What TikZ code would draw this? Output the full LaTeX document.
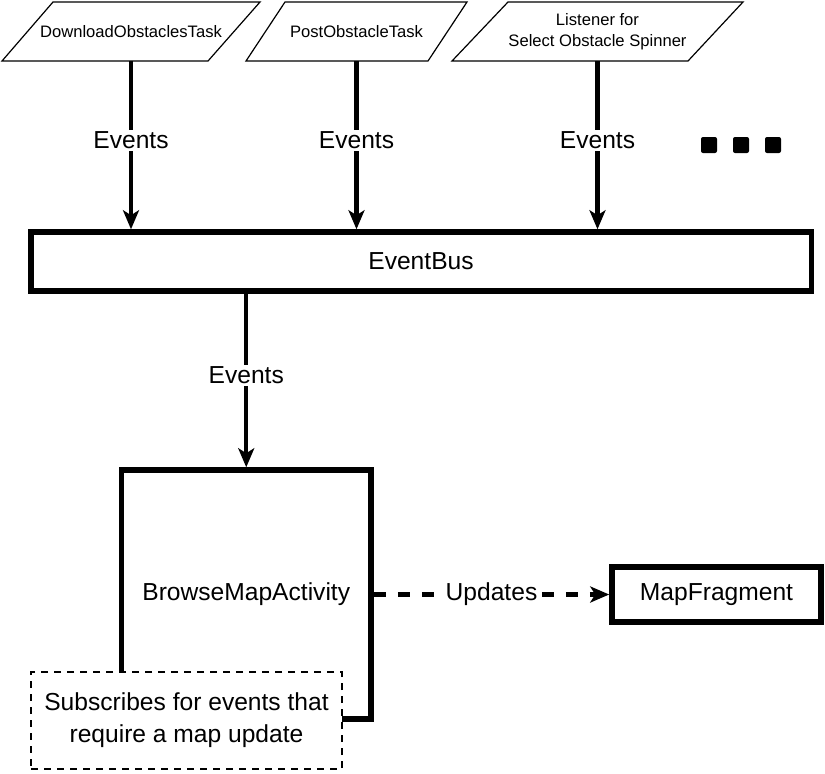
\documentclass[tikz,border=0pt]{standalone}
\usepackage{fontspec}
\setmainfont{Liberation Sans}
\usetikzlibrary{arrows.meta,positioning}

\begin{document}
\begin{tikzpicture}[
    x=0.5pt, y=-0.5pt,
    task/.style={align=center, inner sep=1pt, font=\fontsize{8.3}{10.5}\selectfont},
    taskline/.style={draw, line width=0.6pt, line join=miter},
    bigbox/.style={rectangle, draw, line width=2.75pt, align=center, inner sep=0pt, font=\fontsize{12.3}{15}\selectfont},
    note/.style={rectangle, draw, line width=1.1pt, dash pattern=on 3.5pt off 3pt, fill=white, align=center, inner sep=0pt, font=\fontsize{12.3}{16}\selectfont},
    arr/.style={-{Stealth[length=9.5pt, width=8pt, inset=2.5pt]}, line width=2.2pt},
    lbl/.style={fill=white, inner sep=1pt, font=\fontsize{12.3}{15}\selectfont}
]
    \useasboundingbox (0,0) rectangle (825,773);

    % event sources
    \draw [taskline] (53,2) -- (260,2) -- (208,61) -- (2,61) -- cycle;
    \draw [taskline] (285,2) -- (467,2) -- (428,61) -- (246,61) -- cycle;
    \draw [taskline] (508,2) -- (743,2) -- (688,61) -- (452,61) -- cycle;
    \node [task] (download) at (131,31.5) {DownloadObstaclesTask};
    \node [task] (post) at (356.5,31.5) {PostObstacleTask};
    \node [task] (spinner) at (597.5,31.5) {Listener for\\Select Obstacle Spinner};

    \node [bigbox, minimum width=390.25pt, minimum height=29.5pt] (bus) at (421,261.5) {EventBus};

    \draw [arr] (download.center |- 0,61) -- (download.center |- bus.north) node [lbl, pos=0.47] {Events};
    \draw [arr] (post.center |- 0,61) -- (post.center |- bus.north) node [lbl, pos=0.47] {Events};
    \draw [arr] (spinner.center |- 0,61) -- (spinner.center |- bus.north) node [lbl, pos=0.47] {Events};

    % more sources
    \foreach \x in {709,741,773}
        \fill [rounded corners=1pt] (\x-8,137) rectangle (\x+8,153);

    % subscriber side
    \node [bigbox, minimum width=124.75pt, minimum height=124.5pt] (browse) at (246.25,594.5) {BrowseMapActivity};
    \node [note, minimum width=155.5pt, minimum height=48.5pt] (subscribes) at (186.5,720.5) {Subscribes for events that\\require a map update};
    \node [bigbox, minimum width=104.5pt, minimum height=27.5pt] (mapfrag) at (716.5,594.5) {MapFragment};

    \draw [arr] (bus.south -| browse.north) -- (browse.north) node [lbl, pos=0.47] {Events};
    \draw [arr, dash pattern=on 6pt off 6pt] (browse) -- (mapfrag) node [lbl, midway, inner sep=0.5pt] {Updates};
\end{tikzpicture}
\end{document}
